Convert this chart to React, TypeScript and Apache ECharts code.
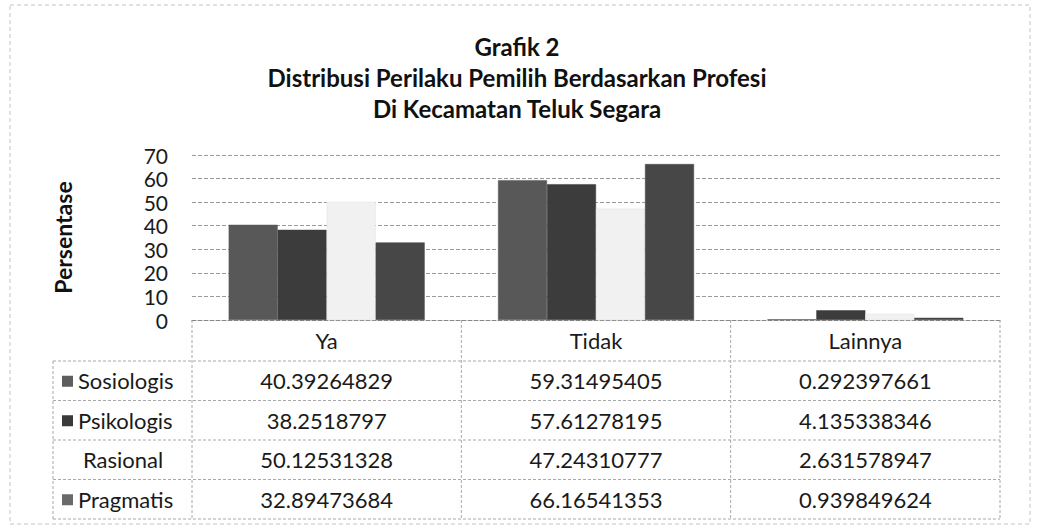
import React, { useEffect, useRef } from "react";
import * as echarts from "echarts";

const titleLines = [
  "Grafik 2",
  "Distribusi Perilaku Pemilih Berdasarkan Profesi",
  "Di Kecamatan Teluk Segara",
];
const yAxisName = "Persentase";
const categories = ["Ya", "Tidak", "Lainnya"];
const seriesNames = ["Sosiologis", "Psikologis", "Rasional", "Pragmatis"];
const sosiologis = [40.39264829, 59.31495405, 0.292397661];
const psikologis = [38.2518797, 57.61278195, 4.135338346];
const rasional = [50.12531328, 47.24310777, 2.631578947];
const pragmatis = [32.89473684, 66.16541353, 0.939849624];
const yMin = 0;
const yMax = 70;
const yInterval = 10;

const seriesValues = [sosiologis, psikologis, rasional, pragmatis];
const seriesColors = ["#585858", "#3c3c3c", "#f1f1f1", "#474747"];
const keyColors = ["#5e5e5e", "#3a3a3a", "#ffffff", "#6a6a6a"];

const FONT = "Lato, 'Open Sans', sans-serif";
const GRID_L = 192;
const GRID_R = 1000;
const GRID_T = 155;
const GRID_B = 320;
const TABLE_LEFT = 53;
const HEADER_BOTTOM = 361;
const ROW_H = 39.5;
const LINE = "#a8a8a8";

export default function App() {
  const ref = useRef<HTMLDivElement>(null);
  useEffect(() => {
    if (!ref.current) return;
    const chart = echarts.init(ref.current, undefined, { renderer: "svg" });
    const W = 1037;
    const H = 529;
    const colW = (GRID_R - GRID_L) / categories.length;
    const tableBottom = HEADER_BOTTOM + ROW_H * seriesNames.length;

    const graphics: any[] = [];
    graphics.push({
      type: "rect",
      shape: { x: 10, y: 5, width: 1020, height: 519 },
      style: { fill: "none", stroke: "#c4c4c4", lineWidth: 1, lineDash: [4, 3] },
      silent: true,
    });
    titleLines.forEach((t, i) => {
      graphics.push({
        type: "text",
        x: 517,
        y: 46 + i * 31,
        style: {
          text: t,
          font: `bold 24px ${FONT}`,
          fill: "#111",
          textAlign: "center",
          textVerticalAlign: "middle",
        },
      });
    });
    for (let i = 0; i <= seriesNames.length; i++) {
      const y = HEADER_BOTTOM + i * ROW_H;
      graphics.push({
        type: "line",
        shape: { x1: TABLE_LEFT, y1: y, x2: GRID_R, y2: y },
        style: { stroke: LINE, lineWidth: 1, lineDash: [3, 2] },
        silent: true,
      });
    }
    for (let c = 0; c <= categories.length; c++) {
      const x = GRID_L + c * colW;
      graphics.push({
        type: "line",
        shape: { x1: x, y1: GRID_B, x2: x, y2: tableBottom },
        style: { stroke: LINE, lineWidth: 1, lineDash: [3, 2] },
        silent: true,
      });
    }
    graphics.push({
      type: "line",
      shape: { x1: TABLE_LEFT, y1: HEADER_BOTTOM, x2: TABLE_LEFT, y2: tableBottom },
      style: { stroke: LINE, lineWidth: 1, lineDash: [3, 2] },
      silent: true,
    });
    seriesNames.forEach((name, r) => {
      const cy = HEADER_BOTTOM + r * ROW_H + ROW_H / 2;
      graphics.push({
        type: "rect",
        shape: { x: 62, y: cy - 5, width: 11, height: 11 },
        style: { fill: keyColors[r] },
        silent: true,
      });
      graphics.push({
        type: "text",
        x: r === 2 ? 83 : 78,
        y: cy,
        style: {
          text: name,
          font: `22px ${FONT}`,
          fill: "#1a1a1a",
          textAlign: "left",
          textVerticalAlign: "middle",
        },
      });
      seriesValues[r].forEach((v, c) => {
        graphics.push({
          type: "text",
          x: GRID_L + c * colW + colW / 2,
          y: cy,
          style: {
            text: String(v),
            font: `22px ${FONT}`,
            fill: "#1a1a1a",
            textAlign: "center",
            textVerticalAlign: "middle",
          },
        });
      });
    });

    chart.setOption({
      animation: false,
      backgroundColor: "#ffffff",
      grid: { left: GRID_L, right: W - GRID_R, top: GRID_T, bottom: H - GRID_B, containLabel: false },
      xAxis: {
        type: "category",
        data: categories,
        axisLine: { show: true, lineStyle: { color: "#888", type: "dashed" } },
        axisTick: { show: false },
        axisLabel: {
          color: "#1a1a1a",
          fontFamily: FONT,
          fontSize: 22,
          margin: 9,
        },
        splitLine: { show: false },
      },
      yAxis: {
        type: "value",
        min: yMin,
        max: yMax,
        interval: yInterval,
        name: yAxisName,
        nameLocation: "middle",
        nameRotate: 90,
        nameGap: 118,
        nameTextStyle: { fontFamily: FONT, fontSize: 23, fontWeight: "bold", color: "#111" },
        axisLine: { show: false },
        axisTick: { show: false },
        axisLabel: { color: "#1a1a1a", fontFamily: FONT, fontSize: 21, lineHeight: 21, margin: 24 },
        splitLine: { show: true, lineStyle: { color: "#9a9a9a", type: "dashed", width: 1 } },
      },
      series: seriesNames.map((name, i) => ({
        name,
        type: "bar",
        data: seriesValues[i],
        barWidth: 49,
        barGap: "0%",
        itemStyle: { color: seriesColors[i], borderColor: i === 2 ? "#e2e2e2" : seriesColors[i], borderWidth: 0.5 },
      })),
      graphic: graphics,
    });
    return () => chart.dispose();
  }, []);
  return (
    <div
      ref={ref}
      style={{ position: "fixed", left: 0, top: 0, width: 1037, height: 529 }}
    />
  );
}
